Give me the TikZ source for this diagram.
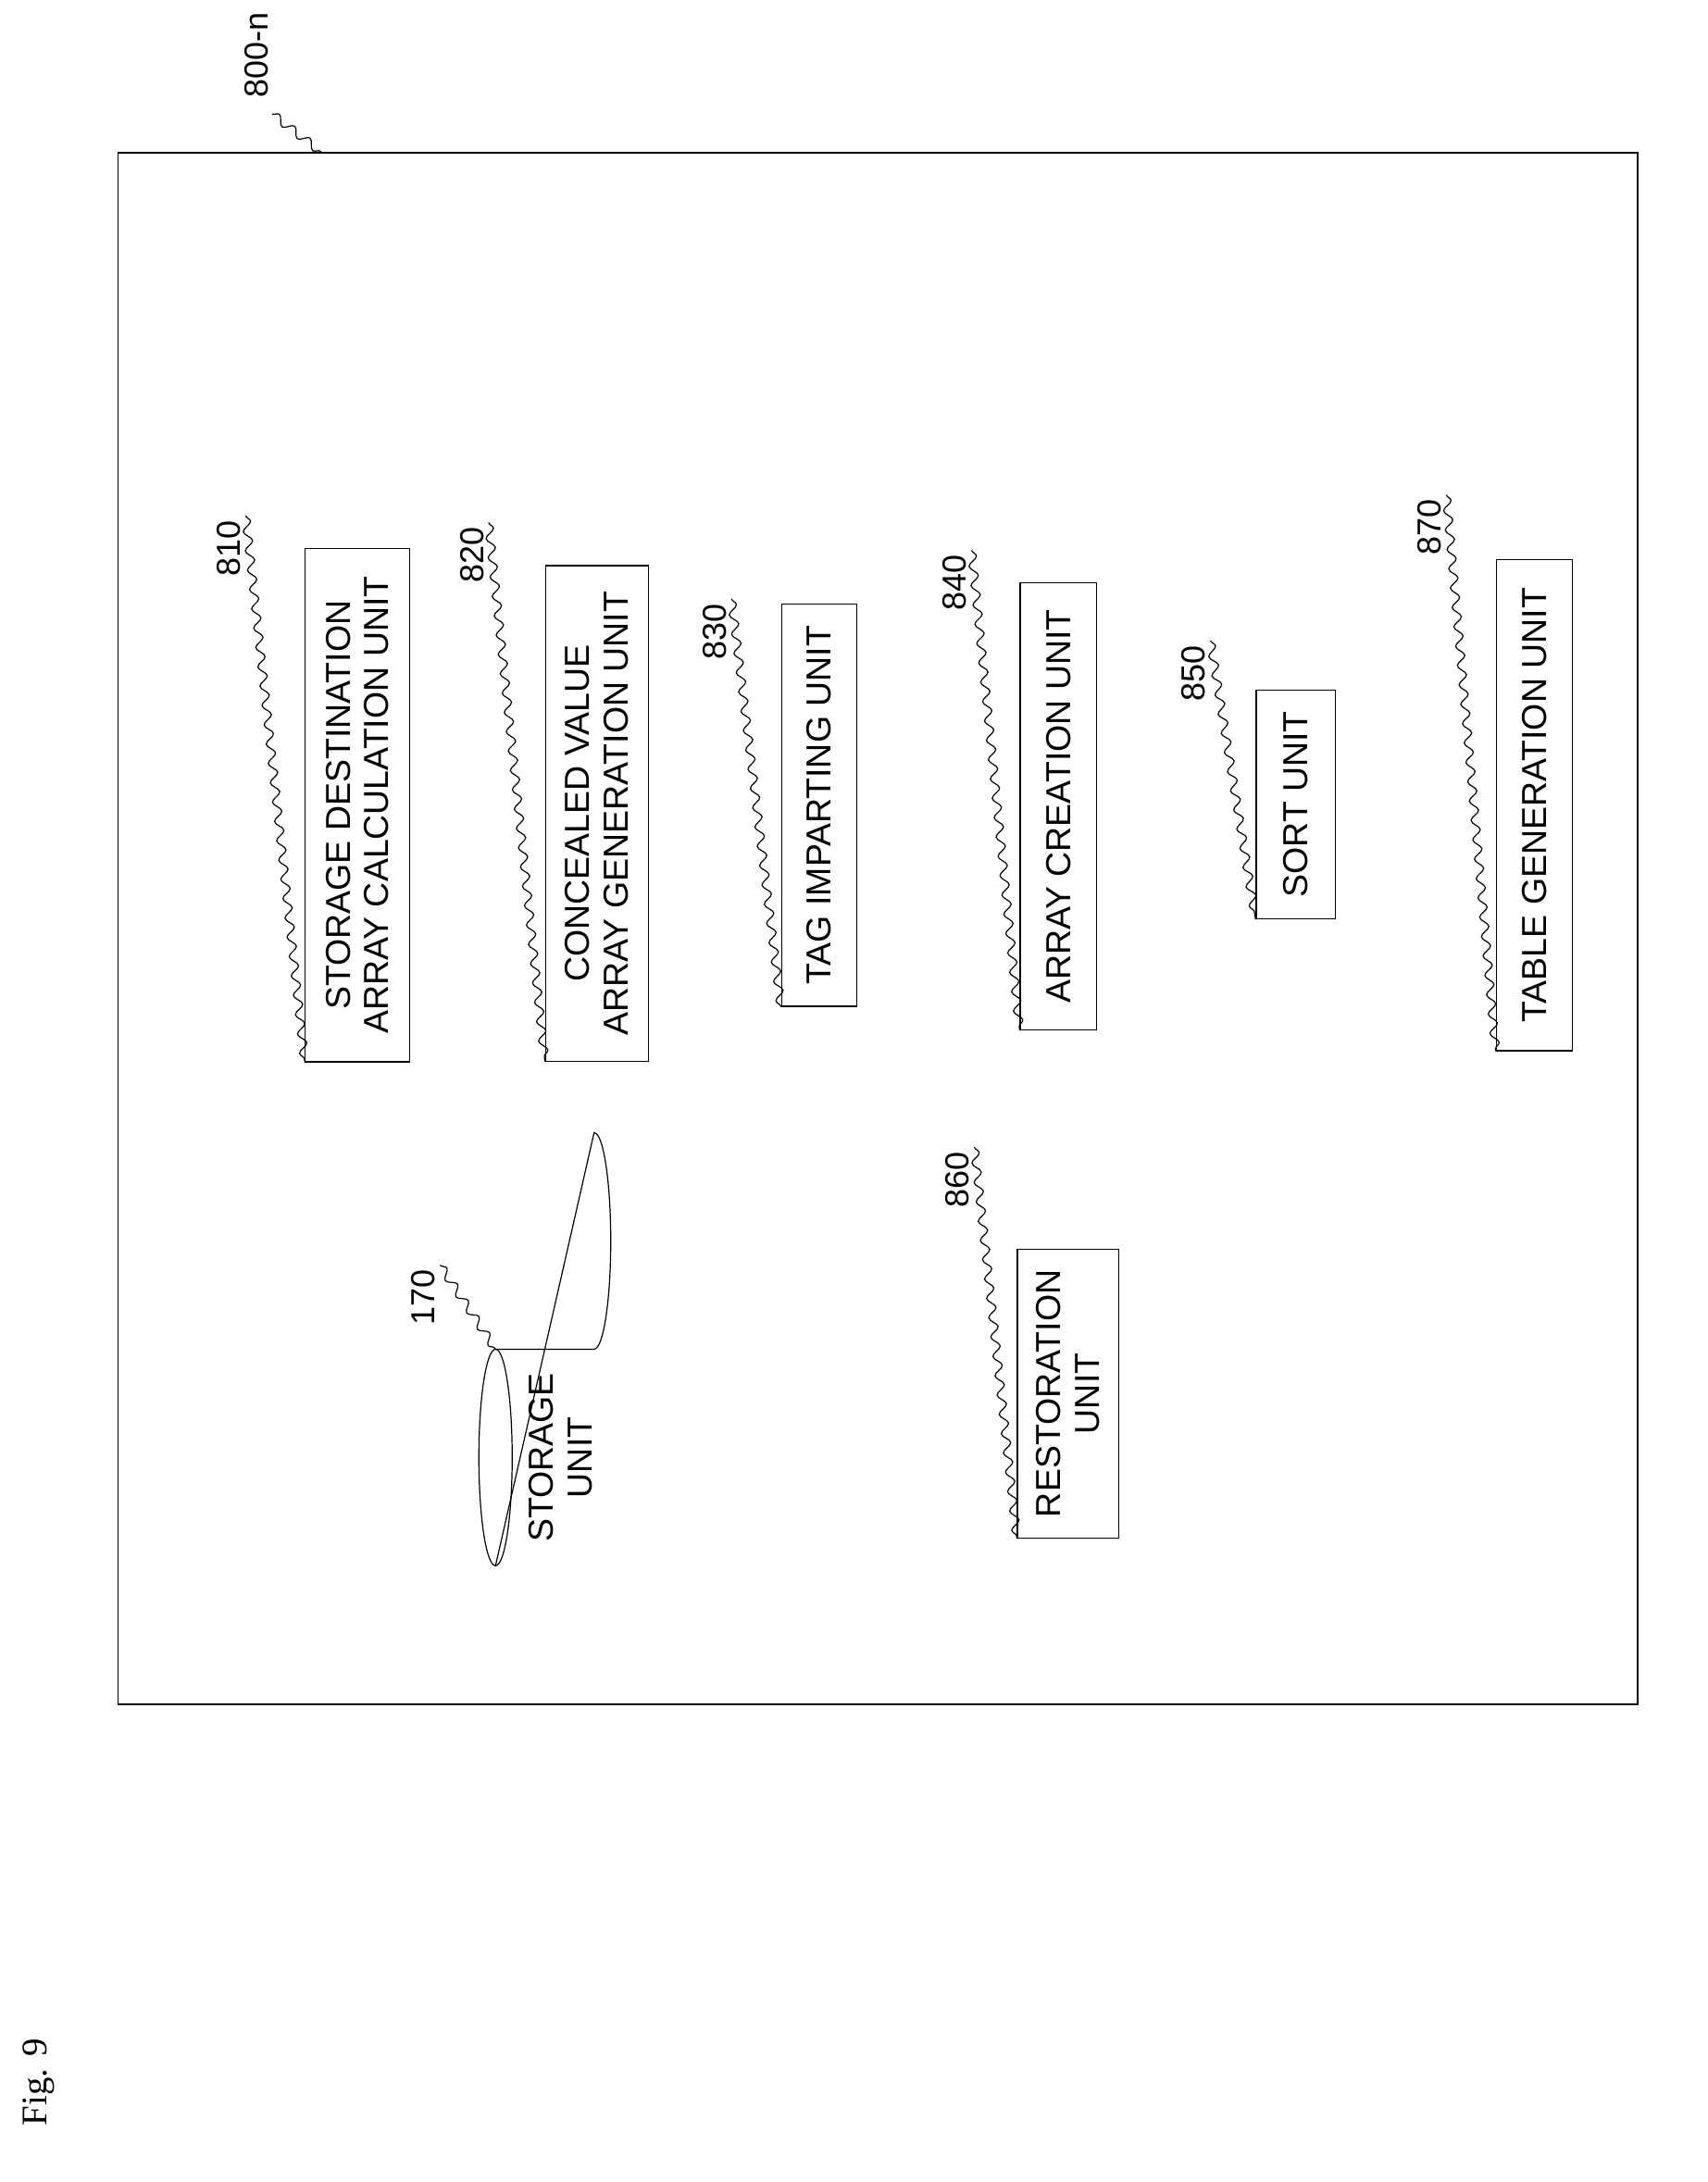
\documentclass[tikz,border=0pt]{standalone}
\usepackage{fontspec}
\setmainfont{Liberation Sans}
\newfontfamily\figfont{Liberation Serif}
\usetikzlibrary{decorations.pathmorphing}
\tikzset{
  unitbox/.style={draw, thick, rotate=90, align=center, inner sep=3pt, font=\fontsize{25}{28}\selectfont},
  reflabel/.style={rotate=90, font=\fontsize{24}{26}\selectfont},
  squig/.style={thick, decorate, decoration={snake, amplitude=3pt, segment length=14pt}}
}
\begin{document}
\begin{tikzpicture}[x=1pt, y=-1pt]
\useasboundingbox (0,0) rectangle (1230,1572);

\draw[very thick] (85,110) rectangle (1180,1228);
\node[reflabel] (lbl800) at (185,40) {800-n};
\draw[squig] (196,82) -- (232,110);

% units
\node[unitbox, minimum width=370pt, minimum height=75pt] (u810) at (257.5,580) {STORAGE DESTINATION\\ARRAY CALCULATION UNIT};
\node[unitbox, minimum width=357pt, minimum height=74pt] (u820) at (430,586) {CONCEALED VALUE\\ARRAY GENERATION UNIT};
\node[unitbox, minimum width=290pt, minimum height=54pt] (u830) at (590,580) {TAG IMPARTING UNIT};
\node[unitbox, minimum width=322pt, minimum height=55pt] (u840) at (762.5,581) {ARRAY CREATION UNIT};
\node[unitbox, minimum width=165pt, minimum height=57pt] (u850) at (933.5,579.5) {SORT UNIT};
\node[unitbox, minimum width=354pt, minimum height=55pt] (u870) at (1105.5,580) {TABLE GENERATION UNIT};
\node[unitbox, minimum width=208pt, minimum height=73pt] (u860) at (769.5,1004) {RESTORATION\\UNIT};

% storage cylinder
\coordinate (cylL) at (357,1050);
\draw[thick] (357,972) -- (428,972) arc[start angle=-90, end angle=90, x radius=12, y radius=-78] -- (357,1128);
\draw[thick] (cylL) ellipse[x radius=12, y radius=78];
\node[rotate=90, align=center, font=\fontsize{25}{28}\selectfont] (u170) at (404,1050) {STORAGE\\UNIT};

% reference labels
\node[reflabel] (l810) at (165,395) {810};
\node[reflabel] (l820) at (340,400) {820};
\node[reflabel] (l830) at (515,455) {830};
\node[reflabel] (l840) at (688,420) {840};
\node[reflabel] (l850) at (860,485) {850};
\node[reflabel] (l870) at (1030,380) {870};
\node[reflabel] (l860) at (690,850) {860};
\node[reflabel] (l170) at (305,935) {170};
\draw[squig] (l810.south east) -- (u810.north west);
\draw[squig] (l820.south east) -- (u820.north west);
\draw[squig] (l830.south east) -- (u830.north west);
\draw[squig] (l840.south east) -- (u840.north west);
\draw[squig] (l850.south east) -- (u850.north west);
\draw[squig] (l870.south east) -- (u870.north west);
\draw[squig] (l860.south east) -- (u860.north west);
\draw[squig] (l170.south east) -- (357,972);

\node[rotate=90, font=\figfont\fontsize{26}{28}\selectfont] (fig) at (28,1500) {Fig. 9};
\end{tikzpicture}
\end{document}
